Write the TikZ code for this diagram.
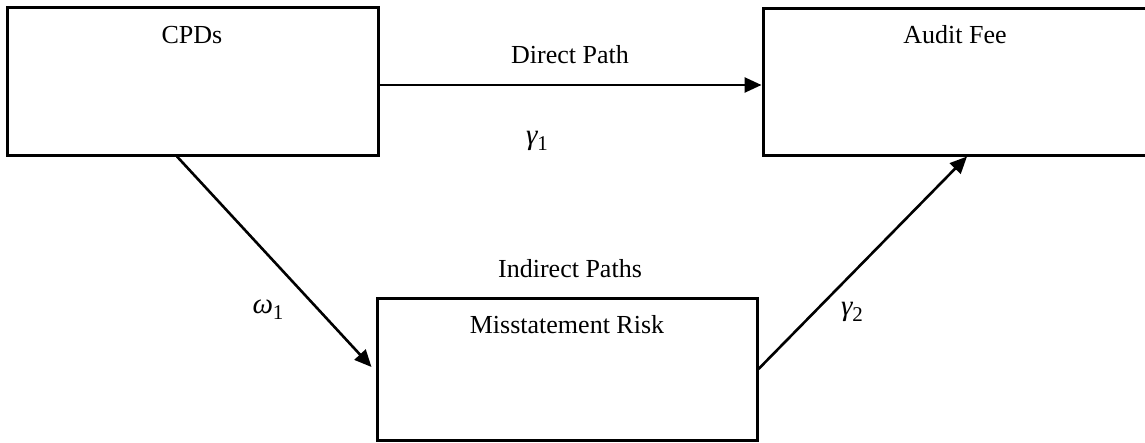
\documentclass[tikz,border=0pt]{standalone}
\usepackage{fontspec}
\setmainfont{Liberation Serif}
\usetikzlibrary{arrows.meta,calc}
\newcommand{\grk}[2]{{\fontsize{29}{32}\selectfont\itshape #1}\raisebox{-6pt}{\fontsize{21}{24}\selectfont #2}}
\begin{document}
\begin{tikzpicture}[x=1pt,y=-1pt,
  box/.style={draw,line width=3pt,inner sep=0pt,minimum width=#1},
  lbl/.style={anchor=base,inner sep=0pt,font=\fontsize{26}{30}\selectfont},
  greek/.style={anchor=base,inner sep=0pt},
  arr/.style={line width=2.6pt,-{Triangle[length=17pt,width=15pt]}}]
\useasboundingbox (0,0) rectangle (1145,442);
\clip (0,0) rectangle (1145,442);
\node[box=371pt,minimum height=148pt] (cpd) at (192.5,81) {};
\node[box=384pt,minimum height=147pt] (fee) at (955,81.5) {};
\node[box=380pt,minimum height=142pt] (mis) at (567,369) {};
\node[lbl] (tcpd) at (192,43) {CPDs};
\node[lbl] (tfee) at (955,43) {Audit Fee};
\node[lbl] (tmis) at (567,333) {Misstatement Risk};
\node[lbl] (tdir) at (570,63) {Direct Path};
\node[lbl] (tind) at (570,277) {Indirect Paths};
\node[greek] (g1) at (537,144) {\grk{γ}{1}};
\node[greek] (w1) at (268,313) {\grk{ω}{1}};
\node[greek] (g2) at (852,315) {\grk{γ}{2}};
\draw[arr] (cpd.east |- 0,85) -- (fee.west |- 0,85);
\draw[arr] (cpd.south -| 177,0) -- ($(mis.west)+(-4,-2)$);
\draw[arr] (mis.east) -- (fee.south -| 967,0);
\end{tikzpicture}
\end{document}
